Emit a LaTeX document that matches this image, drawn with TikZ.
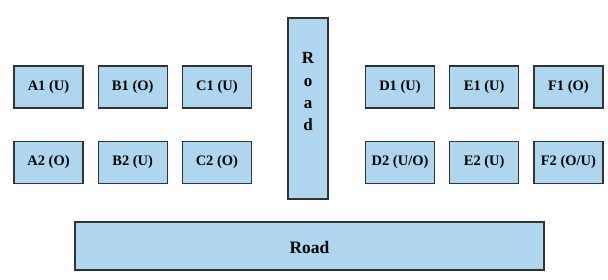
\documentclass[tikz,border=0pt]{standalone}
\usepackage{fontspec}
\setmainfont{Liberation Serif}
\usetikzlibrary{positioning}

\definecolor{plotblue}{HTML}{AED6F1}
\definecolor{edgegray}{HTML}{333333}

\begin{document}
\begin{tikzpicture}[
  x=1pt, y=1pt,
  node distance=32pt and 14pt,
  plot/.style={draw=edgegray, line width=1.2pt, fill=plotblue, minimum width=69pt, minimum height=42pt,
    inner sep=0pt, font=\fontsize{14.5}{16}\selectfont\bfseries},
  road/.style={draw=edgegray, line width=1.2pt, fill=plotblue, inner sep=0pt}
]
\useasboundingbox (0,0) rectangle (608,-280);
% plots west of the road
\node[plot] (a1) at (48.5,-87) {A1 (U)};
\node[plot, right=of a1] (b1) {B1 (O)};
\node[plot, right=of b1] (c1) {C1 (U)};
\node[plot, below=of a1] (a2) {A2 (O)};
\node[plot, below=of b1] (b2) {B2 (U)};
\node[plot, below=of c1] (c2) {C2 (O)};
% plots east of the road
\node[plot] (d1) at (400,-87) {D1 (U)};
\node[plot, right=of d1] (e1) {E1 (U)};
\node[plot, right=of e1] (f1) {F1 (O)};
\node[plot, below=of d1] (d2) {D2 (U/O)};
\node[plot, below=of e1] (e2) {E2 (U)};
\node[plot, below=of f1] (f2) {F2 (O/U)};
% roads
\node[road, minimum width=40pt, minimum height=181pt] (roadv) at (308,-108.5) {};
\node[anchor=north, inner sep=0pt, align=center, font=\fontsize{17}{22.3}\selectfont\bfseries]
  (roadvlbl) at ([yshift=-35pt]roadv.north) {R\\o\\a\\d};
\node[road, minimum width=469pt, minimum height=48pt, font=\fontsize{17.5}{20}\selectfont\bfseries,
  text height=16pt, text depth=0pt] (roadh) at (309.5,-246) {Road};
\end{tikzpicture}
\end{document}
